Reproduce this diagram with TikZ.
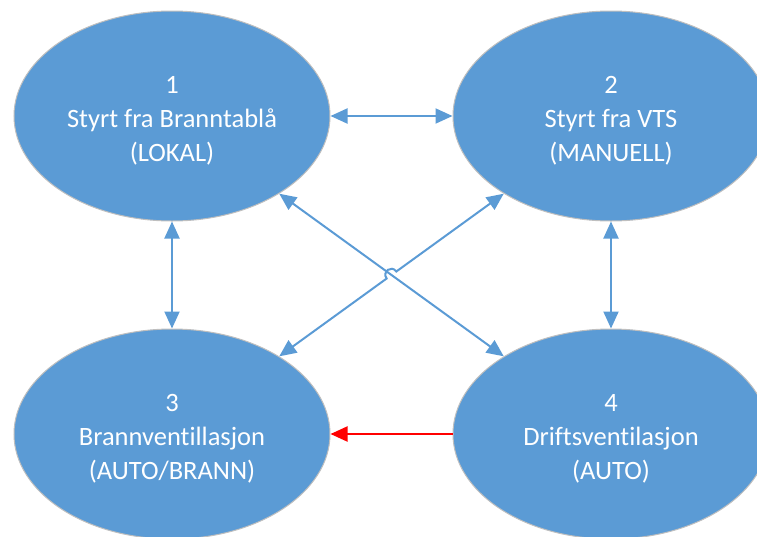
\documentclass[tikz,border=0pt]{standalone}
\usepackage{fontspec}
\setmainfont{Carlito}[Ligatures=NoCommon]
\usetikzlibrary{arrows.meta, shapes.geometric, positioning, calc}

\definecolor{modeblue}{HTML}{5B9BD5}
\definecolor{modered}{HTML}{FF0000}
\newcommand{\topgap}{\rule{0pt}{26pt}}

\begin{document}
\begin{tikzpicture}[x=1pt,y=-1pt,<->,>={Triangle[length=17pt,width=15pt]},
 line width=2pt, color=modeblue, node distance=122pt,
 mode node/.style={ellipse,draw=black!25,line width=1pt,fill=modeblue,
   text=white,align=center,inner sep=0pt,minimum width=316pt,
   minimum height=210pt,font=\fontsize{26.5}{34}\selectfont}]
   \useasboundingbox (0,0) rectangle (757,536);
   \node[mode node] (1) at (172,116) {\topgap 1\\Styrt fra Branntablå\\(LOKAL)};
   \node[mode node] (2) [right=of 1] {\topgap 2\\Styrt fra VTS\\(MANUELL)};
   \node[mode node] (3) [below=107pt of 1] {\topgap 3\\Brannventillasjon\\(AUTO/BRANN)};
   \node[mode node] (4) [below=107pt of 2] {\topgap 4\\Driftsventilasjon\\(AUTO)};

  \foreach \s/\t in {1/2, 1/3, 2/4, 1/4} {
   \path[draw] (\s) edge (\t);}
  % crossing line hops over 1-4
  \coordinate (mid) at ($(1)!0.5!(4)$);
  \draw (3) -- ($(mid)!6pt!(3)$) to[bend left=90,looseness=1.8] ($(mid)!6pt!(2)$) -- (2);
  \path[color=modered,->] (4) edge (3);
  \end{tikzpicture}
\end{document}
